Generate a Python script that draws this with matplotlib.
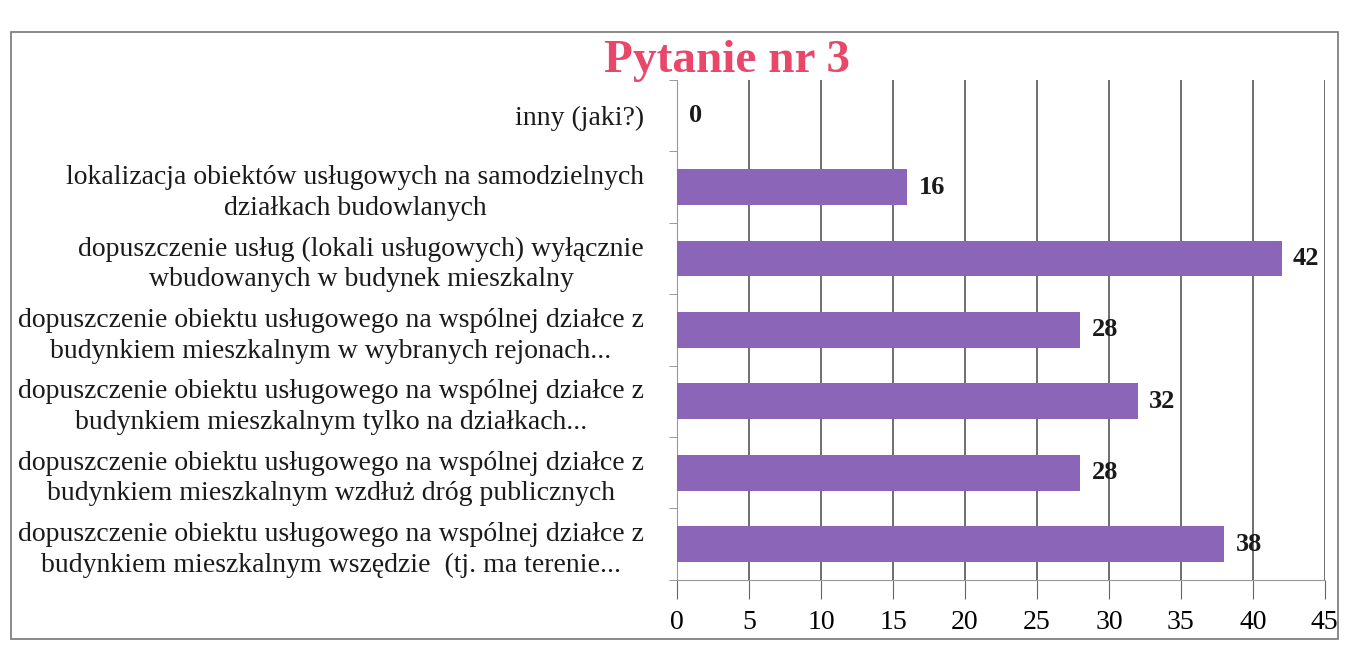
import matplotlib.pyplot as plt
import numpy as np
from matplotlib.patches import Rectangle

categories = [
    "dopuszczenie obiektu usługowego na wspólnej działce z\nbudynkiem mieszkalnym wszędzie  (tj. ma terenie...",
    "dopuszczenie obiektu usługowego na wspólnej działce z\nbudynkiem mieszkalnym wzdłuż dróg publicznych",
    "dopuszczenie obiektu usługowego na wspólnej działce z\nbudynkiem mieszkalnym tylko na działkach...",
    "dopuszczenie obiektu usługowego na wspólnej działce z\nbudynkiem mieszkalnym w wybranych rejonach...",
    "dopuszczenie usług (lokali usługowych) wyłącznie\nwbudowanych w budynek mieszkalny",
    "lokalizacja obiektów usługowych na samodzielnych\ndziałkach budowlanych",
    "inny (jaki?)",
]
values = [38, 28, 32, 28, 42, 16, 0]
xticks = [0, 5, 10, 15, 20, 25, 30, 35, 40, 45]

plt.rcParams['font.family'] = ['Liberation Serif', 'DejaVu Serif']

fig = plt.figure(figsize=(13.49, 6.45), dpi=100)
ax = fig.add_axes([0.502, 0.101, 0.48, 0.775])

y = np.arange(len(categories))
ax.barh(y, values, height=0.5, color='#8a65b8', zorder=3)
for yi, v in zip(y, values):
    ax.text(v + 0.8, yi, str(v), va='center', ha='left', fontsize=19,
            fontweight='bold', color='#1a1a1a', zorder=4)

ax.set_xlim(0, 45)
ax.set_ylim(-0.5, len(categories) - 0.5)
ax.set_xticks(xticks)
ax.set_xticklabels([str(t) for t in xticks], fontsize=20)
ax.set_yticks(y)
ax.set_yticklabels(categories, fontsize=20, linespacing=1.3, color='#1a1a1a')
ax.set_yticks(np.arange(-0.5, len(categories), 1), minor=True)
ax.tick_params(axis='y', which='major', length=0, pad=24)
ax.tick_params(axis='y', which='minor', length=6, color='#888888', direction='out')
ax.tick_params(axis='x', length=14, color='#666666', pad=8)
for lab in ax.get_yticklabels():
    lab.set_horizontalalignment('right')
    lab.set_multialignment('center')

ax.xaxis.grid(True, color='#555555', linewidth=1.2, zorder=0)
for side in ['top', 'right']:
    ax.spines[side].set_visible(False)
ax.spines['left'].set_color('#999999')
ax.spines['bottom'].set_color('#999999')

fig.text(0.539, 0.905, "Pytanie nr 3", ha='center', va='center', fontsize=34,
         fontweight='bold', color='#e8476a')

fig.patches.append(Rectangle((0.008, 0.01), 0.984, 0.94, transform=fig.transFigure,
                             fill=False, edgecolor='#777777', linewidth=1.2))

fig.savefig('out.png', dpi=100, facecolor='white')
